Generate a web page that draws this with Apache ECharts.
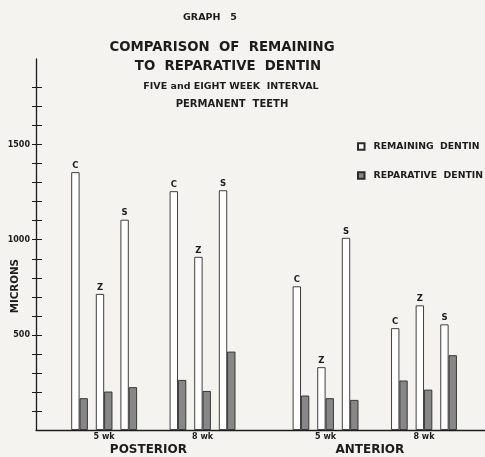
<!DOCTYPE html>
<html>
<head>
<meta charset="utf-8">
<script src="https://cdn.jsdelivr.net/npm/echarts@6/dist/echarts.min.js"></script>
<style>
html,body{margin:0;padding:0;background:#f4f3f0;}
#chart{width:485px;height:457px;}
</style>
</head>
<body>
<div id="chart"></div>
<script>
// Slots along the x axis (empty string = gap between groups)
const slots = ['C','Z','S','','C','Z','S','','','C','Z','S','','C','Z','S'];
// Remaining dentin (microns)
const remaining = [1355, 715, 1105, null, 1255, 910, 1260, null, null, 755, 330, 1010, null, 535, 655, 555];
// Reparative dentin (microns)
const reparative = [167, 202, 225, null, 263, 205, 412, null, null, 181, 167, 158, null, 260, 212, 393];
// Week labels, placed under the Z slot of each group
const weekSlots = [1, 5, 10, 14];
const weekLabels = ['5 wk', '8 wk', '5 wk', '8 wk'];
const regionNames = ['POSTERIOR', 'ANTERIOR'];
const yTickValues = [100,200,300,400,500,600,700,800,900,1000,1100,1200,1300,1400,1500,1600,1700,1800];
const yLabelValues = [500, 1000, 1500];

const FONT = 'DejaVu Sans';
const INK = '#1c1c1c';

const toPairs = arr => arr.map((v, i) => v == null ? null : [i, v]).filter(Boolean);
const regionSlots = [(weekSlots[0] + weekSlots[1]) / 2 - 0.2, (weekSlots[2] + weekSlots[3]) / 2 - 0.2];

const chart = echarts.init(document.getElementById('chart'), null, {renderer: 'canvas'});
const option = {
  backgroundColor: '#f4f3f0',
  animation: false,
  title: [
    {text: 'GRAPH   5', left: 205, top: 8, textAlign: 'center',
     textStyle: {fontFamily: FONT, fontSize: 9.5, fontWeight: 'bold', color: INK}},
    {text: 'COMPARISON  OF  REMAINING', left: 217, top: 36, textAlign: 'center',
     textStyle: {fontFamily: FONT, fontSize: 13.3, fontWeight: 'bold', color: INK}},
    {text: 'TO  REPARATIVE  DENTIN', left: 223, top: 55, textAlign: 'center',
     textStyle: {fontFamily: FONT, fontSize: 13.3, fontWeight: 'bold', color: INK}},
    {text: 'FIVE and EIGHT WEEK  INTERVAL', left: 226, top: 77, textAlign: 'center',
     textStyle: {fontFamily: FONT, fontSize: 9.5, fontWeight: 'bold', color: INK}},
    {text: 'PERMANENT  TEETH', left: 227, top: 94, textAlign: 'center',
     textStyle: {fontFamily: FONT, fontSize: 10, fontWeight: 'bold', color: INK}}
  ],
  legend: {
    orient: 'vertical', left: 357, top: 142, itemGap: 20, padding: 0,
    itemWidth: 6.5, itemHeight: 6.5, icon: 'rect',
    textStyle: {fontFamily: FONT, fontSize: 9.3, fontWeight: 'bold', color: INK, padding: [0, 0, 0, 4]},
    data: ['REMAINING  DENTIN', 'REPARATIVE  DENTIN']
  },
  grid: {left: 36, right: 0, top: 59, bottom: 27, containLabel: false},
  xAxis: [
    {type: 'value', min: -1.77, max: 16.48, position: 'bottom',
     axisLine: {show: true, onZero: false, lineStyle: {color: INK, width: 1.3}},
     axisTick: {show: false}, splitLine: {show: false},
     axisLabel: {show: true, customValues: weekSlots, margin: 3,
       formatter: v => weekLabels[weekSlots.indexOf(v)] || '',
       fontFamily: FONT, fontSize: 8, fontWeight: 'bold', color: INK}},
    {type: 'value', min: -1.77, max: 16.48, position: 'bottom',
     axisLine: {show: false, onZero: false}, axisTick: {show: false}, splitLine: {show: false},
     axisLabel: {show: true, customValues: regionSlots, margin: 14,
       formatter: v => regionNames[regionSlots.indexOf(v)] || '',
       fontFamily: FONT, fontSize: 12, fontWeight: 'bold', color: INK}}
  ],
  yAxis: [
    {type: 'value', min: 0, max: 1950, position: 'left',
     axisLine: {show: true, onZero: false, lineStyle: {color: INK, width: 1.3}},
     axisTick: {show: true, inside: false, length: 4, customValues: yTickValues, lineStyle: {color: INK, width: 1}},
     axisLabel: {show: true, customValues: yLabelValues, margin: 6,
       formatter: v => String(v),
       fontFamily: FONT, fontSize: 8, fontWeight: 'bold', color: INK},
     splitLine: {show: false}},
    {type: 'value', min: 0, max: 1950, position: 'left',
     axisLine: {show: false, onZero: false},
     axisTick: {show: true, inside: true, length: 6, customValues: yTickValues, lineStyle: {color: INK, width: 1}},
     axisLabel: {show: false}, splitLine: {show: false}}
  ],
  graphic: [
    {type: 'text', left: 10, top: 259, rotation: Math.PI / 2,
     style: {text: 'MICRONS', fontFamily: FONT, fontSize: 10.3, fontWeight: 'bold', fill: INK}}
  ],
  series: [
    {name: 'REMAINING  DENTIN', type: 'bar', xAxisIndex: 0, yAxisIndex: 0,
     barWidth: 8.3, barGap: '0%',
     data: toPairs(remaining),
     itemStyle: {color: '#ffffff', borderColor: '#2a2a2a', borderWidth: 0.9},
     label: {show: true, position: 'top', distance: 2,
       formatter: p => slots[p.data[0]],
       fontFamily: FONT, fontSize: 8.5, fontWeight: 'bold', color: INK}},
    {name: 'REPARATIVE  DENTIN', type: 'bar', xAxisIndex: 0, yAxisIndex: 0,
     barWidth: 8.3, barGap: '0%',
     data: toPairs(reparative),
     itemStyle: {color: '#878787', borderColor: '#2a2a2a', borderWidth: 0.9}}
  ]
};
chart.setOption(option);
</script>
</body>
</html>
